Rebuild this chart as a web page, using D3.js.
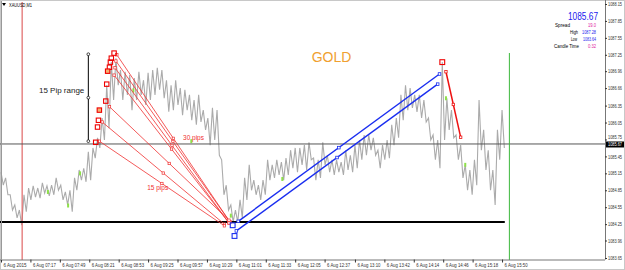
<!DOCTYPE html>
<html>
<head>
<meta charset="utf-8">
<script src="https://cdn.jsdelivr.net/npm/d3@7"></script>
<style>
  body { margin: 0; background: #fff; }
  svg { display: block; font-family: "Liberation Sans", Arial, sans-serif; }
</style>
</head>
<body>
<div class="canvas"></div>
<script>
// XAUUSD M1, 6 Aug 2015 - bars every 5 minutes from 06:45
const barStart = "06:45";
const barStepMin = 5;
const barHigh = [
  1085.17, 1085.07, 1084.77, 1084.59, 1084.50, 1084.77, 1084.89, 1084.93, 1084.89, 1084.98,
  1084.93, 1084.94, 1085.07, 1084.94, 1084.82, 1084.85, 1085.07, 1085.21, 1085.24, 1085.53,
  1085.60, 1085.78, 1086.13, 1086.71, 1087.12, 1087.19, 1086.98, 1086.95, 1086.89, 1086.84,
  1086.95, 1086.80, 1086.93, 1086.98, 1087.02, 1086.98, 1086.80, 1086.71, 1086.80, 1086.66,
  1086.63, 1086.54, 1086.45, 1086.54, 1086.27, 1086.13, 1086.31, 1086.27, 1085.39, 1084.94,
  1084.59, 1084.50, 1084.68, 1085.07, 1085.30, 1085.03, 1084.94, 1085.03, 1085.39, 1085.30,
  1085.39, 1085.35, 1085.42, 1085.56, 1085.60, 1085.60, 1085.65, 1085.70, 1085.42, 1085.39,
  1085.70, 1085.47, 1085.39, 1085.39, 1085.35, 1085.56, 1085.47, 1085.65, 1085.74, 1085.83,
  1085.83, 1085.78, 1085.56, 1085.65, 1085.74, 1086.01, 1086.13, 1086.54, 1086.71, 1086.66,
  1086.54, 1086.54, 1086.45, 1086.13, 1085.83, 1085.74, 1087.12, 1086.48, 1086.27, 1085.83,
  1085.65, 1085.30, 1085.21, 1085.39, 1086.45, 1085.92, 1085.56, 1085.21, 1085.92, 1086.27
];
const barLow = [
  1084.94, 1084.77, 1084.50, 1084.36, 1084.23, 1084.47, 1084.68, 1084.73, 1084.71, 1084.80,
  1084.75, 1084.77, 1084.85, 1084.68, 1084.59, 1084.47, 1084.85, 1085.03, 1085.00, 1085.03,
  1085.42, 1085.60, 1085.74, 1085.95, 1086.45, 1086.71, 1086.45, 1086.54, 1086.27, 1086.45,
  1086.54, 1086.36, 1086.45, 1086.54, 1086.63, 1086.48, 1086.24, 1086.27, 1086.36, 1086.18,
  1086.27, 1086.09, 1086.01, 1086.06, 1085.92, 1085.65, 1085.74, 1085.47, 1084.77, 1084.50,
  1084.29, 1084.29, 1084.36, 1084.68, 1084.85, 1084.77, 1084.68, 1084.77, 1085.03, 1085.07,
  1085.12, 1085.03, 1085.12, 1085.24, 1085.17, 1085.30, 1085.21, 1085.39, 1085.03, 1085.07,
  1085.30, 1085.17, 1085.12, 1085.17, 1085.12, 1085.21, 1085.17, 1085.24, 1085.39, 1085.47,
  1085.56, 1085.47, 1085.24, 1085.39, 1085.42, 1085.65, 1085.78, 1086.09, 1086.27, 1086.31,
  1086.24, 1086.13, 1086.06, 1085.74, 1085.39, 1085.24, 1085.74, 1085.92, 1085.78, 1085.39,
  1085.07, 1084.85, 1084.77, 1084.94, 1085.56, 1085.21, 1084.85, 1084.59, 1085.39, 1085.60
];

// small green candle bodies
const greenTimes = ["07:36", "07:58", "08:11", "09:09", "10:12", "10:55", "11:51", "14:49", "15:10"];
const greenPrices = [1084.82, 1084.58, 1085.15, 1086.62, 1085.72, 1084.40, 1085.05, 1086.48, 1085.30];

const priceTicks = [1088.15, 1087.85, 1087.55, 1087.25, 1086.96, 1086.66, 1086.35, 1086.05,
  1085.75, 1085.45, 1085.15, 1084.85, 1084.55, 1084.25, 1083.96, 1083.65];
const timeTicks = ["06:45", "07:17", "07:49", "08:21", "08:53", "09:25", "09:57", "10:29", "11:01",
  "11:33", "12:05", "12:37", "13:10", "13:42", "14:14", "14:46", "15:18", "15:50"];
const timeLabels = ["6 Aug 2015", "6 Aug 07:17", "6 Aug 07:49", "6 Aug 08:21", "6 Aug 08:53",
  "6 Aug 09:25", "6 Aug 09:57", "6 Aug 10:29", "6 Aug 11:01", "6 Aug 11:33", "6 Aug 12:05",
  "6 Aug 12:37", "6 Aug 13:10", "6 Aug 13:42", "6 Aug 14:14", "6 Aug 14:46", "6 Aug 15:18", "6 Aug 15:50"];

const bid = 1085.67;
const supportPrice = 1084.29;
const supportEnd = "15:53";
const separatorTime = "07:08";
const nowTime = "15:58";

// red fan lines: [startTime, startPrice, endTime, endPrice]
const fanLines = [
  ["08:51", 1087.25, "10:54", 1084.29],
  ["08:50", 1087.14, "10:54", 1084.29],
  ["08:49", 1087.02, "10:53", 1084.27],
  ["08:48", 1086.89, "10:53", 1084.27],
  ["08:43", 1086.33, "10:53", 1084.32],
  ["08:35", 1086.06, "10:48", 1084.25],
  ["08:32", 1085.72, "10:48", 1084.22]
];
// square markers on the rally
const markTimes = ["08:48", "08:45", "08:44", "08:43", "08:41", "08:40", "08:39", "08:32", "08:31", "08:30", "08:28"];
const markPrices = [1087.28, 1087.19, 1087.12, 1087.03, 1086.96, 1086.73, 1086.43, 1086.27, 1086.09, 1085.97, 1085.70];

// pip labels on the fan
const pipLabels = ["30 pips", "15 pips"];
const pipTimes = ["10:03", "09:24"];
const pipPrices = [1085.74, 1084.85];

// blue channel
const channel = [
  ["11:03", 1084.30, "14:42", 1086.91],
  ["11:01", 1084.13, "14:40", 1086.73]
];
const channelMarkTimes = ["10:57", "10:59"];
const channelMarkPrices = [1084.23, 1084.04];

// red drop after spike
const dropLine = ["14:49", 1086.95, "15:05", 1085.79];
const spikeMark = ["14:45", 1087.12];

// 15 pip range ruler
const rangeTime = "08:20";
const rangeTop = 1087.26;
const rangeBottom = 1085.72;

const width = 625;
const height = 270;

const parse = s => {
  const [h, m] = s.split(":").map(Number);
  return new Date(2015, 7, 6, h, m);
};

const x = d3.scaleTime()
  .domain([parse("06:45"), parse("17:42")])
  .range([1, 605]);
const y = d3.scaleLinear()
  .domain([1083.65, 1088.15])
  .range([258, 4]);

const svg = d3.select(".canvas").append("svg")
  .attr("width", width)
  .attr("height", height);

// squeeze small text into a given width
function fit(sel, w) {
  sel.attr("textLength", w).attr("lengthAdjust", "spacingAndGlyphs");
}

// frame
svg.append("rect")
  .attr("x", 0.5).attr("y", 0.5)
  .attr("width", width - 1).attr("height", height - 1)
  .attr("fill", "none").attr("stroke", "#c8c8c8");

const t0 = parse(barStart);
const barTime = i => new Date(+t0 + i * barStepMin * 60000);

// zigzag through highs and lows
const pts = [];
barHigh.forEach((h, i) => {
  pts.push([barTime(i), h]);
  pts.push([new Date(+barTime(i) + 2.5 * 60000), barLow[i]]);
});
const line = d3.line().x(d => x(d[0])).y(d => y(d[1]));
svg.append("path")
  .attr("d", line(pts))
  .attr("fill", "none")
  .attr("stroke", "#ababab")
  .attr("stroke-width", 1.1);

svg.selectAll(".green")
  .data(greenTimes)
  .join("rect")
    .attr("x", d => x(parse(d)) - 1)
    .attr("y", (d, i) => y(greenPrices[i]) - 2)
    .attr("width", 2)
    .attr("height", 4)
    .attr("fill", "#8ee04a");

// separator, bid, support
svg.append("line")
  .attr("x1", x(parse(separatorTime))).attr("x2", x(parse(separatorTime)))
  .attr("y1", 2).attr("y2", 260)
  .attr("stroke", "#e06666").attr("stroke-width", 1.2);

svg.append("line")
  .attr("x1", 0).attr("x2", 605)
  .attr("y1", y(bid)).attr("y2", y(bid))
  .attr("stroke", "#555").attr("stroke-width", 1);

svg.append("line")
  .attr("x1", 0).attr("x2", x(parse(supportEnd)))
  .attr("y1", y(supportPrice)).attr("y2", y(supportPrice))
  .attr("stroke", "#000").attr("stroke-width", 2);

svg.append("line")
  .attr("x1", x(parse(nowTime))).attr("x2", x(parse(nowTime)))
  .attr("y1", 53).attr("y2", 260)
  .attr("stroke", "#3cb83c").attr("stroke-width", 1);

// red fan
fanLines.forEach(l => {
  const x1 = x(parse(l[0])), y1 = y(l[1]), x2 = x(parse(l[2])), y2 = y(l[3]);
  svg.append("line")
    .attr("x1", x1).attr("y1", y1).attr("x2", x2).attr("y2", y2)
    .attr("stroke", "#f03030").attr("stroke-width", 0.8);
  [[x1, y1], [(x1 + x2) / 2, (y1 + y2) / 2], [x2, y2]].forEach(p => {
    svg.append("rect")
      .attr("x", p[0] - 1.2).attr("y", p[1] - 1.2)
      .attr("width", 2.4).attr("height", 2.4)
      .attr("fill", "#fff").attr("stroke", "#f03030").attr("stroke-width", 0.7);
  });
});

svg.selectAll(".mark")
  .data(markTimes)
  .join("rect")
    .attr("x", d => x(parse(d)) - 2.2)
    .attr("y", (d, i) => y(markPrices[i]) - 2.2)
    .attr("width", 4.4).attr("height", 4.4)
    .attr("fill", (d, i) => (i === 4 || i === 7) ? "#f5b070" : "none")
    .attr("stroke", "#ee0000").attr("stroke-width", 1.1);

svg.selectAll(".pips")
  .data(pipLabels)
  .join("text")
    .attr("x", (d, i) => x(parse(pipTimes[i])))
    .attr("y", (d, i) => y(pipPrices[i]))
    .attr("font-size", 6.5).attr("fill", "#f03030")
    .text(d => d);

// blue channel
channel.forEach(l => {
  const x1 = x(parse(l[0])), y1 = y(l[1]), x2 = x(parse(l[2])), y2 = y(l[3]);
  svg.append("line")
    .attr("x1", x1).attr("y1", y1).attr("x2", x2).attr("y2", y2)
    .attr("stroke", "#1a2ef0").attr("stroke-width", 1.4);
  [[x1, y1], [(x1 + x2) / 2, (y1 + y2) / 2], [x2, y2]].forEach(p => {
    svg.append("rect")
      .attr("x", p[0] - 1.3).attr("y", p[1] - 1.3)
      .attr("width", 2.6).attr("height", 2.6)
      .attr("fill", "#fff").attr("stroke", "#1a2ef0").attr("stroke-width", 0.8);
  });
});
svg.selectAll(".cmark")
  .data(channelMarkTimes)
  .join("rect")
    .attr("x", d => x(parse(d)) - 2.4)
    .attr("y", (d, i) => y(channelMarkPrices[i]) - 2.4)
    .attr("width", 4.8).attr("height", 4.8)
    .attr("fill", "none").attr("stroke", "#1a2ef0").attr("stroke-width", 1.1);

// red drop line
{
  const x1 = x(parse(dropLine[0])), y1 = y(dropLine[1]), x2 = x(parse(dropLine[2])), y2 = y(dropLine[3]);
  svg.append("line")
    .attr("x1", x1).attr("y1", y1).attr("x2", x2).attr("y2", y2)
    .attr("stroke", "#ee1111").attr("stroke-width", 1.5);
  [[x1, y1], [(x1 + x2) / 2, (y1 + y2) / 2], [x2, y2]].forEach(p => {
    svg.append("rect")
      .attr("x", p[0] - 1.2).attr("y", p[1] - 1.2)
      .attr("width", 2.4).attr("height", 2.4)
      .attr("fill", "#fff").attr("stroke", "#ee1111").attr("stroke-width", 0.8);
  });
  svg.append("rect")
    .attr("x", x(parse(spikeMark[0])) - 2.4).attr("y", y(spikeMark[1]) - 2.4)
    .attr("width", 4.8).attr("height", 4.8)
    .attr("fill", "none").attr("stroke", "#ee0000").attr("stroke-width", 1.1);
}

// 15 pip ruler
{
  const rx = x(parse(rangeTime));
  svg.append("line")
    .attr("x1", rx).attr("x2", rx)
    .attr("y1", y(rangeTop)).attr("y2", y(rangeBottom))
    .attr("stroke", "#000").attr("stroke-width", 1);
  [rangeTop, (rangeTop + rangeBottom) / 2, rangeBottom].forEach(p => {
    svg.append("circle")
      .attr("cx", rx).attr("cy", y(p)).attr("r", 1.4)
      .attr("fill", "#fff").attr("stroke", "#000").attr("stroke-width", 0.7);
  });
  svg.append("text")
    .attr("x", rx - 4).attr("y", y((rangeTop + rangeBottom) / 2) - 5)
    .attr("text-anchor", "end")
    .attr("font-size", 8).attr("fill", "#222")
    .text("15 Pip range");
}

svg.append("text")
  .attr("x", x(parse("12:23"))).attr("y", y(1087.12))
  .attr("font-size", 14).attr("fill", "#f0a030")
  .text("GOLD");

// price axis
const gy = svg.append("g")
  .attr("transform", "translate(605,0)")
  .call(d3.axisRight(y).tickValues(priceTicks).tickSize(2).tickFormat(d3.format(".2f")));
gy.select(".domain").attr("stroke", "#777").attr("d", "M0.5,0V259.5");
gy.selectAll("text").attr("font-size", 5).attr("fill", "#333").attr("x", 3).call(fit, 14);
gy.selectAll("line").attr("stroke", "#333");
gy.selectAll(".tick").filter(d => d === 1085.75).select("text").attr("dy", "-0.1em");

svg.append("rect")
  .attr("x", 606).attr("y", y(bid) - 2.5)
  .attr("width", 18).attr("height", 6)
  .attr("fill", "#000");
svg.append("text")
  .attr("x", 608).attr("y", y(bid) + 2.3)
  .attr("font-size", 5).attr("fill", "#fff")
  .text(d3.format(".2f")(bid))
  .call(fit, 14);

// time axis
const gx = svg.append("g")
  .attr("transform", "translate(0,259.5)")
  .call(d3.axisBottom(x).tickValues(timeTicks.map(parse)).tickSize(3)
    .tickFormat((d, i) => timeLabels[i]));
gx.select(".domain").attr("stroke", "#777").attr("d", "M0,0.5H605");
gx.selectAll("text")
  .attr("font-size", 5).attr("fill", "#333")
  .attr("text-anchor", "start").attr("x", 2).attr("dy", "0.3em")
  .call(fit, 23);
gx.selectAll("line").attr("stroke", "#333");

svg.append("line")
  .attr("x1", 1.5).attr("x2", 1.5).attr("y1", 1).attr("y2", 260)
  .attr("stroke", "#999");

// header
svg.append("path")
  .attr("d", "M2,3L6,3L4,6Z").attr("fill", "#000");
svg.append("text")
  .attr("x", 9).attr("y", 7)
  .attr("font-size", 5).attr("fill", "#000")
  .text("XAUUSD,M1")
  .call(fit, 23);

// info panel
svg.append("text")
  .attr("x", 568).attr("y", 20)
  .attr("font-size", 11).attr("fill", "#1a1aee")
  .text("1085.67")
  .call(fit, 30);
const infoLabels = ["Spread", "High", "Low", "Candle Time"];
const infoValues = ["19.0", "1087.28", "1083.64", "0:32"];
const infoColors = ["#e020a0", "#1a1aee", "#1a1aee", "#e020a0"];
const labelX = [555, 570, 571, 554];
const labelW = [15, 8, 6, 25];
const valueX = [588, 582, 583, 588];
const valueW = [8, 14, 13, 8];
infoLabels.forEach((l, i) => {
  svg.append("text")
    .attr("x", labelX[i]).attr("y", 27 + i * 7)
    .attr("font-size", 5).attr("fill", "#000")
    .text(l)
    .call(fit, labelW[i]);
  svg.append("text")
    .attr("x", valueX[i]).attr("y", 27 + i * 7)
    .attr("font-size", 5).attr("fill", infoColors[i])
    .text(infoValues[i])
    .call(fit, valueW[i]);
});
</script>
</body>
</html>
